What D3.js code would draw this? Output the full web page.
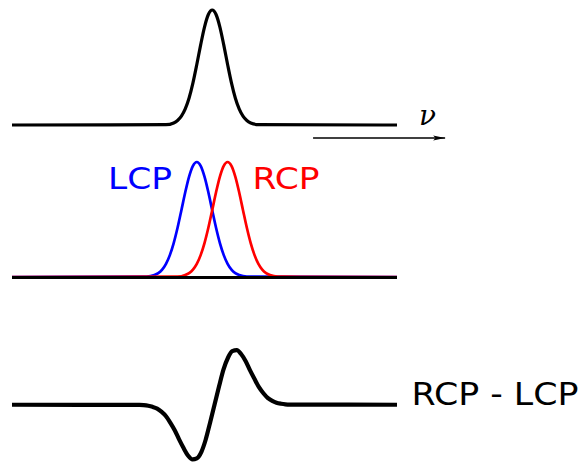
<!DOCTYPE html>
<html>
<head>
<meta charset="utf-8">
<script src="https://cdn.jsdelivr.net/npm/d3@7"></script>
<style>
  body { margin: 0; background: #fff; }
  svg { display: block; }
</style>
</head>
<body>
<script>
// absorption line (top)
const absX = [0, 40, 42, 43, 44, 45, 46, 47, 48, 49, 50, 51, 52, 53, 54, 55, 56, 57, 58, 59, 60, 61, 62, 64, 100];
const absY = [0, .003, .018, .039, .077, .14, .235, .366, .526, .697, .852, .961, 1, .961, .852, .697, .526, .366, .235, .14, .077, .039, .018, .003, 0];

// LCP / RCP components (middle)
const lcpX = [0, 35, 37, 38, 39, 40, 41, 42, 43, 44, 45, 46, 47, 48, 49, 50, 51, 52, 53, 54, 55, 56, 57, 58, 59, 61, 100];
const lcpY = [0, .003, .017, .034, .064, .114, .19, .295, .428, .581, .737, .873, .967, 1, .967, .873, .737, .581, .428, .295, .19, .114, .064, .034, .017, .003, 0];
const rcpX = [0, 43, 45, 46, 47, 48, 49, 50, 51, 52, 53, 54, 55, 56, 57, 58, 59, 60, 61, 62, 63, 64, 65, 66, 67, 69, 100];
const rcpY = [0, .003, .017, .034, .064, .114, .19, .295, .428, .581, .737, .873, .967, 1, .967, .873, .737, .581, .428, .295, .19, .114, .064, .034, .017, .003, 0];

// difference RCP - LCP (bottom)
const diffX = [0, 33.1, 34.2, 35.4, 36.5, 37.7, 38.8, 40.0, 41.1, 42.3, 43.4, 44.6, 45.7, 46.9, 48.0, 49.2, 50.3, 51.4, 52.6,
  53.8, 54.9, 56.1, 57.2, 58.4, 59.5, 60.7, 61.8, 63.0, 64.1, 65.3, 66.4, 67.6, 68.7, 69.9, 71.0, 72.2, 100];
const diffY = [0, -.004, -.008, -.019, -.038, -.071, -.126, -.21, -.325, -.47, -.633, -.796, -.927, -.998, -.979, -.859, -.639, -.341, 0,
  .341, .639, .859, .979, .998, .927, .796, .633, .47, .325, .21, .126, .071, .038, .019, .008, .004, 0];

const labels = { lcp: "LCP", rcp: "RCP", diff: "RCP - LCP", axis: "ν" };

const W = 579, H = 463;
const svg = d3.select("body").append("svg")
    .attr("width", W)
    .attr("height", H);

let x = d3.scaleLinear().domain([0, 100]).range([12, 397]);
let yTop = d3.scaleLinear().domain([0, 1]).range([125, 10]);
let yMid = d3.scaleLinear().domain([0, 1]).range([277, 162]);
let yBot = d3.scaleLinear().domain([-1, 1]).range([459.5, 350]);

function lineFor(xs, ys, y) {
    return d3.line()
        .x(function(d, i) { return x(xs[i]); })
        .y(function(d) { return y(d); })
        .curve(d3.curveMonotoneX)(ys);
}

// top
svg.append("path")
    .attr("d", lineFor(absX, absY, yTop))
    .attr("fill", "none")
    .attr("stroke", "#000")
    .attr("stroke-width", 3.2);

// frequency arrow
svg.append("defs").append("marker")
    .attr("id", "arrow")
    .attr("viewBox", "0 0 12 6")
    .attr("refX", 12)
    .attr("refY", 3)
    .attr("markerWidth", 12)
    .attr("markerHeight", 6)
    .attr("markerUnits", "userSpaceOnUse")
    .attr("orient", "auto")
    .append("path")
    .attr("d", "M0,0.6 L12,3 L0,5.4 L2.5,3 Z")
    .attr("fill", "#000");

svg.append("line")
    .attr("x1", x(78.2)).attr("x2", x(112.5))
    .attr("y1", 138).attr("y2", 138)
    .attr("stroke", "#000")
    .attr("stroke-width", 1.6)
    .attr("marker-end", "url(#arrow)");

svg.append("text")
    .attr("x", 419)
    .attr("y", 125)
    .style("font-family", "'DejaVu Serif', serif")
    .style("font-style", "italic")
    .style("font-size", "28px")
    .text(labels.axis);

// middle
svg.append("path")
    .attr("d", lineFor(lcpX, lcpY, yMid))
    .attr("fill", "none")
    .attr("stroke", "#0000ff")
    .attr("stroke-width", 2.7);
svg.append("path")
    .attr("d", lineFor(rcpX, rcpY, yMid))
    .attr("fill", "none")
    .attr("stroke", "#ff0000")
    .attr("stroke-width", 2.7);
svg.append("line")
    .attr("x1", x(0)).attr("x2", x(100))
    .attr("y1", yMid(0) + 0.5).attr("y2", yMid(0) + 0.5)
    .attr("stroke", "#000")
    .attr("stroke-width", 3.2);

const sans = "'DejaVu Sans', sans-serif";
svg.append("text")
    .attr("x", 108)
    .attr("y", 189)
    .attr("textLength", 64)
    .attr("lengthAdjust", "spacingAndGlyphs")
    .style("font-family", sans)
    .style("font-size", "30px")
    .attr("fill", "#0000ff")
    .text(labels.lcp);
svg.append("text")
    .attr("x", 252.5)
    .attr("y", 189)
    .attr("textLength", 67)
    .attr("lengthAdjust", "spacingAndGlyphs")
    .style("font-family", sans)
    .style("font-size", "30px")
    .attr("fill", "#ff0000")
    .text(labels.rcp);

// bottom
svg.append("path")
    .attr("d", lineFor(diffX, diffY, yBot))
    .attr("fill", "none")
    .attr("stroke", "#000")
    .attr("stroke-width", 4.2);

svg.append("text")
    .attr("x", 411.5)
    .attr("y", 405)
    .attr("textLength", 167)
    .attr("lengthAdjust", "spacingAndGlyphs")
    .style("font-family", sans)
    .style("font-size", "31.5px")
    .attr("fill", "#000")
    .text(labels.diff);
</script>
</body>
</html>
